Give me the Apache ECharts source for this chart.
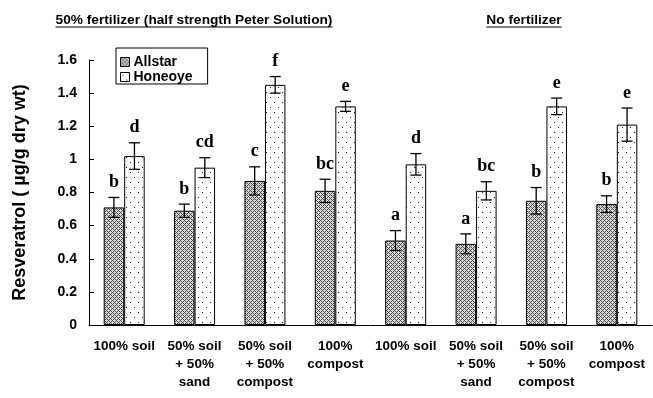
<!DOCTYPE html>
<html>
<head>
<meta charset="utf-8">
<script src="https://cdn.jsdelivr.net/npm/echarts@6/dist/echarts.min.js"></script>
<style>
  html, body { margin: 0; padding: 0; background: #fff; }
  #chart { width: 653px; height: 398px; }
</style>
</head>
<body>
<div id="chart"></div>
<script>
// Growing media, repeated for each fertilizer treatment
const categories = [
  '100% soil', '50% soil\n+ 50%\nsand', '50% soil\n+ 50%\ncompost', '100%\ncompost',
  '100% soil', '50% soil\n+ 50%\nsand', '50% soil\n+ 50%\ncompost', '100%\ncompost'
];
const seriesNames = ['Allstar', 'Honeoye'];
// Resveratrol (µg/g dry wt): means and error-bar half widths
const allstarMean = [0.71, 0.69, 0.87, 0.81, 0.51, 0.49, 0.75, 0.73];
const allstarErr  = [0.06, 0.04, 0.085, 0.07, 0.06, 0.06, 0.08, 0.05];
const honeoyeMean = [1.02, 0.95, 1.45, 1.32, 0.97, 0.81, 1.32, 1.21];
const honeoyeErr  = [0.08, 0.06, 0.05, 0.03, 0.065, 0.055, 0.05, 0.10];
// Significance letters
const allstarLetters = ['b', 'b', 'c', 'bc', 'a', 'a', 'b', 'b'];
const honeoyeLetters = ['d', 'cd', 'f', 'e', 'd', 'bc', 'e', 'e'];
// Treatment headings
const groupTitles = ['50% fertilizer (half strength Peter Solution)', 'No fertilizer'];

const SANS = '"Liberation Sans", Arial, sans-serif';
const SERIF = '"Liberation Serif", "Times New Roman", serif';

// Fill patterns for the two cultivars
function crossPattern() {
  const c = document.createElement('canvas');
  c.width = 4; c.height = 4;
  const g = c.getContext('2d');
  g.fillStyle = '#d6d6d6';
  g.fillRect(0, 0, 4, 4);
  g.fillStyle = '#505050';
  [[0,0],[1,1],[2,2],[3,3],[1,3],[3,1]].forEach(p => g.fillRect(p[0], p[1], 1, 1));
  return c;
}
function dotPattern() {
  const c = document.createElement('canvas');
  c.width = 8; c.height = 10;
  const g = c.getContext('2d');
  g.fillStyle = '#ffffff';
  g.fillRect(0, 0, 8, 10);
  g.fillStyle = '#222';
  g.fillRect(2, 2, 1, 1);
  g.fillRect(6, 7, 1, 1);
  return c;
}
const crossFill = { image: crossPattern(), repeat: 'repeat' };
const dotFill = { image: dotPattern(), repeat: 'repeat' };

const BAR_W = 20.5;

function errorSeries(name, means, errs, letters, offset) {
  return {
    type: 'custom',
    name: name + ' error',
    silent: true,
    z: 5,
    data: means.map((m, i) => [i, m, errs[i]]),
    renderItem: function (params, api) {
      const i = api.value(0), v = api.value(1), e = api.value(2);
      const top = api.coord([i, v + e]);
      const bot = api.coord([i, v - e]);
      const x = top[0] + offset;
      const cap = 5.5;
      const st = { stroke: '#000', lineWidth: 1.3 };
      return {
        type: 'group',
        children: [
          { type: 'line', shape: { x1: x, y1: top[1], x2: x, y2: bot[1] }, style: st },
          { type: 'line', shape: { x1: x - cap, y1: top[1], x2: x + cap, y2: top[1] }, style: st },
          { type: 'line', shape: { x1: x - cap, y1: bot[1], x2: x + cap, y2: bot[1] }, style: st },
          {
            type: 'text',
            style: {
              text: letters[params.dataIndex],
              x: x, y: top[1] - 6,
              align: 'center', verticalAlign: 'bottom',
              font: 'bold 18px ' + SERIF,
              fill: '#000'
            }
          }
        ]
      };
    }
  };
}

// Underlined treatment headings
function heading(text, cx) {
  const font = 'bold 13.7px ' + SANS;
  const m = document.createElement('canvas').getContext('2d');
  m.font = font;
  const w = m.measureText(text).width;
  return [
    {
      type: 'text', left: cx - w / 2, top: 13,
      style: { text: text, font: font, fill: '#000' }
    },
    {
      type: 'line',
      shape: { x1: cx - w / 2, y1: 27, x2: cx + w / 2, y2: 27 },
      style: { stroke: '#000', lineWidth: 1.2 }
    }
  ];
}

const chart = echarts.init(document.getElementById('chart'), null, { renderer: 'canvas' });

chart.setOption({
  animation: false,
  backgroundColor: '#fff',
  grid: { left: 89, right: 1, top: 60, bottom: 73, containLabel: false },
  legend: {
    left: 116, top: 48,
    orient: 'vertical',
    data: seriesNames.map(n => ({ name: n, icon: 'rect' })),
    itemWidth: 9, itemHeight: 9, itemGap: 1,
    padding: [7, 15, 0, 4],
    borderColor: '#000', borderWidth: 1,
    backgroundColor: '#fff',
    itemStyle: { borderColor: '#000', borderWidth: 1 },
    textStyle: {
      fontFamily: SANS, fontWeight: 'bold', fontSize: 14, lineHeight: 14,
      color: '#000', padding: [0, 0, 0, -1]
    }
  },
  xAxis: {
    type: 'category',
    data: categories,
    axisLine: { lineStyle: { color: '#000', width: 1 } },
    axisTick: { inside: true, length: 4, lineStyle: { color: '#000' } },
    axisLabel: {
      interval: 0, margin: 12,
      fontFamily: SANS, fontWeight: 'bold', fontSize: 13.5, lineHeight: 18, color: '#000'
    }
  },
  yAxis: {
    type: 'value',
    min: 0, max: 1.6, interval: 0.2,
    name: 'Resveratrol ( \u00b5g/g dry wt)',
    nameLocation: 'middle', nameRotate: 90, nameGap: 60,
    nameTextStyle: { fontFamily: SANS, fontWeight: 'bold', fontSize: 18, color: '#000' },
    axisLine: { show: true, lineStyle: { color: '#000', width: 1 } },
    axisTick: { show: true, inside: true, length: 5, lineStyle: { color: '#000' } },
    splitLine: { show: false },
    axisLabel: {
      margin: 12, fontFamily: SANS, fontWeight: 'bold', fontSize: 14, color: '#000',
      formatter: v => String(+v.toFixed(1))
    }
  },
  graphic: [].concat(heading(groupTitles[0], 194), heading(groupTitles[1], 524)),
  series: [
    {
      name: seriesNames[0], type: 'bar', data: allstarMean,
      barWidth: BAR_W, barGap: '0%',
      itemStyle: { color: crossFill, borderColor: '#000', borderWidth: 1 }
    },
    {
      name: seriesNames[1], type: 'bar', data: honeoyeMean,
      barWidth: BAR_W, barGap: '0%',
      itemStyle: { color: dotFill, borderColor: '#000', borderWidth: 1 }
    },
    errorSeries(seriesNames[0], allstarMean, allstarErr, allstarLetters, -BAR_W / 2),
    errorSeries(seriesNames[1], honeoyeMean, honeoyeErr, honeoyeLetters, BAR_W / 2)
  ]
});
</script>
</body>
</html>
